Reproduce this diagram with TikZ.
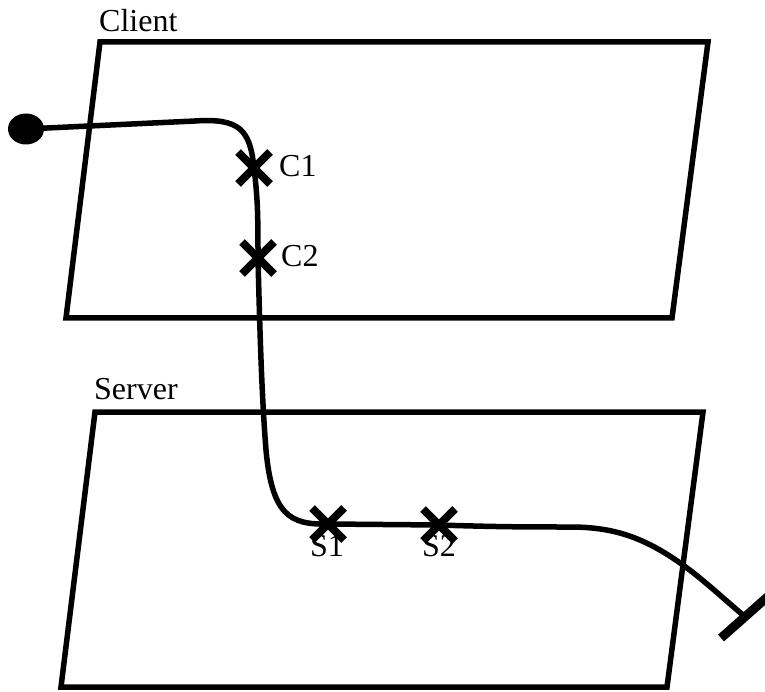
\documentclass[tikz,border=0pt]{standalone}
\usepackage{fontspec}
\setmainfont{Liberation Serif}
\usetikzlibrary{shapes.misc,shapes.geometric}
\begin{document}
\begin{tikzpicture}[x=1pt,y=-1pt,
  plane/.style={line width=5.5pt,line join=miter},
  lbl/.style={inner sep=0pt,font=\fontsize{32}{36}\selectfont},
  xmark/.style={cross out,draw,line width=8pt,minimum size=24pt,inner sep=0pt},
  trace/.style={line width=5.5pt},
  endbar/.style={line width=9pt}]
\useasboundingbox (0,0) rectangle (765,692);
% the two planes
\draw[plane] (100,42) -- (708,42) -- (672,318) -- (66,318) -- cycle;
\draw[plane] (95,412) -- (703,412) -- (667,687) -- (61,687) -- cycle;
\node[lbl,anchor=base west] (client) at (99,32) {Client};
\node[lbl,anchor=base west] (server) at (94,399) {Server};
% points along the trace
\node[ellipse,fill=black,minimum width=36pt,minimum height=31pt,inner sep=0pt] (start) at (26,129) {};
\node[xmark] (c1) at (254,168) {};
\node[xmark] (c2) at (258,258) {};
\node[xmark] (s1) at (328,524) {};
\node[xmark] (s2) at (439,525) {};
\coordinate (stop) at (743,615);
\node[lbl,anchor=west] (c1l) at (279,166) {C1};
\node[lbl,anchor=west] (c2l) at (281,256) {C2};
\node[lbl,anchor=north] (s1l) at (327,535) {S1};
\node[lbl,anchor=north] (s2l) at (439,535) {S2};
% the trace
\draw[trace] (start.center) -- (195,121)
  .. controls (240,118) and (250,130) .. (c1.center)
  .. controls (258,200) and (258,220) .. (c2.center)
  .. controls (260,340) and (262,400) .. (266,450)
  .. controls (272,515) and (290,525) .. (s1.center)
  -- (s2.center)
  .. controls (500,527) and (530,527) .. (570,527)
  .. controls (615,527) and (645,538) .. (683,565)
  .. controls (705,581) and (725,600) .. (stop);
% terminating bar
\draw[endbar] (stop) ++(-22,23) -- ++(52,-46);
\end{tikzpicture}
\end{document}
